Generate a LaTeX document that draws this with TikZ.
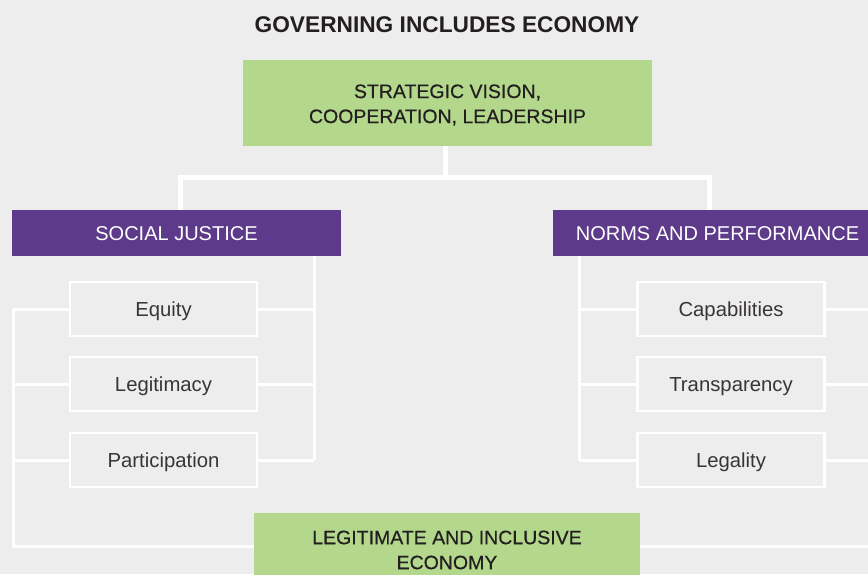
\documentclass[tikz,border=0pt]{standalone}
\usepackage{fontspec}
\setmainfont{Liberation Sans}
\newfontfamily\medfont[FakeBold=0.5]{Liberation Sans}
\definecolor{bgc}{HTML}{EDEDED}
\definecolor{greenc}{HTML}{B3D88C}
\definecolor{purplec}{HTML}{5E3B8A}
\definecolor{textc}{HTML}{231F20}
\tikzset{
  greenbox/.style={fill=greenc, draw=none, inner sep=0pt},
  greentext/.style={text=textc, align=center, inner sep=0pt, font=\medfont\fontsize{19.5}{25}\selectfont},
  purplebox/.style={fill=purplec, draw=none, text=white, inner sep=0pt, minimum width=329pt, minimum height=46pt, text height=14.3pt, text depth=0pt, font=\fontsize{20}{24}\selectfont},
  childbox/.style={fill=bgc, draw=white, line width=2.5pt, text=textc!90, inner sep=0pt, minimum width=187pt, minimum height=54pt, text height=14.5pt, text depth=0pt, font=\fontsize{20.3}{24}\selectfont},
  conn/.style={draw=white, line width=5pt},
  brk/.style={draw=white, line width=3pt},
}
\begin{document}
\begin{tikzpicture}[x=1pt,y=-1pt]
\fill[bgc] (0,0) rectangle (868,574);
\useasboundingbox (0,0) rectangle (868,574);
\clip (0,0) rectangle (868,574);

\node[text=textc, text height=16pt, text depth=0pt, font=\bfseries\fontsize{22.7}{26}\selectfont] (title) at (447,24) {GOVERNING INCLUDES ECONOMY};

\node[greenbox, minimum width=409pt, minimum height=86pt] (top) at (447.5,103) {};
\node[greentext] (toptext) at ([yshift=-2pt]top.center) {STRATEGIC VISION,\\COOPERATION, LEADERSHIP};

\node[purplebox] (sj) at (176.5,233) {SOCIAL JUSTICE};
\node[purplebox] (np) at (717.5,233) {NORMS AND PERFORMANCE};

\node[childbox] (eq) at (163.5,309) {Equity};
\node[childbox] (lg) at (163.5,384) {Legitimacy};
\node[childbox] (pa) at (163.5,460) {Participation};

\node[childbox] (ca) at (731,309) {Capabilities};
\node[childbox] (tr) at (731,384) {Transparency};
\node[childbox] (le) at (731,460) {Legality};

\node[greenbox, minimum width=386pt, minimum height=71pt] (econ) at (447,548.5) {};
\node[greentext] (econtext) at ([yshift=-1.5pt]econ.center) {LEGITIMATE AND INCLUSIVE\\ECONOMY};

% top connectors
\coordinate (jl) at (180,177);
\coordinate (jr) at (709.5,177);
\coordinate (jm) at (445,177);
\draw[conn] (top.south -| jm) -- (jm);
\draw[conn] (sj.north -| jl) -- (jl) -- (jr) -- (np.north -| jr);

% social justice bracket (right side)
\coordinate (sr) at (314,0);
\draw[brk] (sj.south -| sr) -- (pa.east -| sr);
\draw[brk] (eq.east) -- (eq.east -| sr);
\draw[brk] (lg.east) -- (lg.east -| sr);
\draw[brk] (pa.east) -- (pa.east -| sr);

% outer left bracket
\coordinate (ol) at (13,546);
\draw[brk] (eq.west -| ol) -- (ol) -- (econ.west |- ol);
\draw[brk] (eq.west) -- (eq.west -| ol);
\draw[brk] (lg.west) -- (lg.west -| ol);
\draw[brk] (pa.west) -- (pa.west -| ol);

% norms bracket (left side)
\coordinate (nl) at (579,0);
\draw[brk] (np.south -| nl) -- (le.west -| nl);
\draw[brk] (ca.west) -- (ca.west -| nl);
\draw[brk] (tr.west) -- (tr.west -| nl);
\draw[brk] (le.west) -- (le.west -| nl);

% outer right bracket (runs off the edge)
\coordinate (or) at (885,546);
\draw[brk] (ca.east) -- (ca.east -| or);
\draw[brk] (tr.east) -- (tr.east -| or);
\draw[brk] (le.east) -- (le.east -| or);
\draw[brk] (econ.east |- or) -- (or);
\end{tikzpicture}
\end{document}
